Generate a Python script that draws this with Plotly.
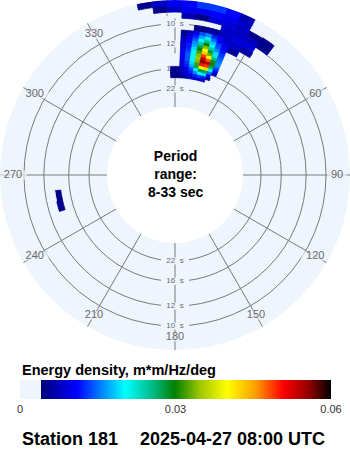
import plotly.graph_objects as go

# ---------------- data ----------------
# coarse grid: frequency bin centres (Hz) x direction bin centres (deg from N, clockwise)
freq_centers = [0.0525, 0.0575, 0.0625, 0.0675, 0.0725, 0.0775, 0.0825,
                0.0875, 0.0925, 0.0975, 0.1025, 0.1075, 0.1125, 0.1175]
dir_centers = [-10, -5, 0, 5, 10, 15, 20, 25, 30, 35]
# energy density (m*m/Hz/deg), rows = freq_centers, cols = dir_centers
energy_main = [
    [0,     0,     0,     0.004, 0.004, 0.004, 0,     0,     0,     0],
    [0,     0,     0.005, 0,     0,     0,     0,     0,     0,     0],
    [0,     0,     0.005, 0,     0,     0,     0,     0,     0,     0],
    [0,     0,     0.004, 0,     0,     0,     0,     0,     0,     0],
    [0,     0,     0.004, 0,     0,     0,     0,     0.004, 0,     0],
    [0,     0,     0,     0,     0,     0,     0,     0.004, 0,     0],
    [0,     0,     0,     0,     0,     0,     0,     0.004, 0,     0],
    [0,     0,     0,     0,     0,     0,     0,     0.006, 0,     0],
    [0,     0,     0,     0,     0,     0,     0,     0.008, 0.006, 0],
    [0,     0,     0,     0,     0.005, 0.006, 0.008, 0.009, 0.009, 0.004],
    [0,     0,     0,     0,     0,     0,     0.008, 0.008, 0.008, 0.005],
    [0,     0,     0.004, 0.007, 0.005, 0.009, 0.009, 0.008, 0.005, 0.005],
    [0,     0.005, 0.008, 0.010, 0.010, 0.011, 0.010, 0.008, 0.004, 0],
    [0.005, 0.008, 0.010, 0.011, 0.013, 0.013, 0.011, 0.007, 0.004, 0],
]
# fine grid over the main peak
core_freqs = [0.05625, 0.05875, 0.06125, 0.06375, 0.06625, 0.06875, 0.07125, 0.07375,
              0.07625, 0.07875, 0.08125, 0.08375, 0.08625, 0.08875, 0.09125, 0.09375]
core_dirs = [3.75, 6.25, 8.75, 11.25, 13.75, 16.25, 18.75, 21.25]
energy_core = [
    [0.005, 0.006, 0.007, 0.008, 0.009, 0.008, 0,     0],
    [0.006, 0.008, 0.010, 0.012, 0.013, 0.012, 0.006, 0],
    [0.007, 0.009, 0.012, 0.016, 0.020, 0.019, 0.010, 0.004],
    [0.008, 0.010, 0.014, 0.021, 0.028, 0.027, 0.015, 0.007],
    [0.009, 0.012, 0.017, 0.027, 0.040, 0.038, 0.021, 0.010],
    [0.009, 0.013, 0.019, 0.032, 0.050, 0.049, 0.027, 0.013],
    [0.010, 0.014, 0.020, 0.034, 0.056, 0.054, 0.030, 0.016],
    [0.010, 0.014, 0.021, 0.035, 0.054, 0.048, 0.029, 0.016],
    [0.010, 0.014, 0.021, 0.034, 0.049, 0.040, 0.026, 0.015],
    [0.010, 0.013, 0.020, 0.032, 0.043, 0.033, 0.022, 0.014],
    [0.009, 0.012, 0.019, 0.030, 0.040, 0.028, 0.019, 0.013],
    [0.009, 0.012, 0.017, 0.027, 0.034, 0.024, 0.016, 0.012],
    [0.008, 0.011, 0.016, 0.024, 0.030, 0.021, 0.014, 0.011],
    [0.007, 0.010, 0.014, 0.020, 0.025, 0.018, 0.013, 0.010],
    [0.006, 0.009, 0.012, 0.017, 0.021, 0.015, 0.011, 0.009],
    [0.005, 0.007, 0.010, 0.014, 0.016, 0.012, 0.010, 0.008],
]
west_freq = [0.0675, 0.0725, 0.0775]
west_dirs = [255, 260]
energy_west = [
    [0.004, 0.004],
    [0.005, 0.005],
    [0,     0.004],
]
bin_df, bin_dth = 0.005, 5
core_df, core_dth = 0.0025, 2.5

period_ticks = [10, 12, 16, 22]
angle_ticks = [0, 30, 60, 90, 120, 150, 180, 210, 240, 270, 300, 330]
angle_labels = ["360", "30", "60", "90", "120", "150", "180", "210", "240", "270", "300", "330"]
cbar_ticks = [0, 0.03, 0.06]
cbar_ticktext = ["0", "0.03", "0.06"]
e_max = 0.06

title_text = "Energy density, m*m/Hz/deg"
center_text = "<b>Period<br>range:<br>8-33 sec</b>"
station_text = "Station 181"
time_text = "2025-04-27 08:00 UTC"

# ---------------- style ----------------
BG = "#eef5fd"
GRID = "#7a7a7a"
LABEL = "#6a6a6a"
FONT = "Liberation Sans, Arial, sans-serif"
F_IN, F_OUT = 0.0304, 0.1201          # radial (frequency) range of the disk
HOLE = 68 / 175
LABEL_R = 0.1092                      # radius of direction labels

colorscale = [
    [0.0, BG], [0.0675, BG],
    [0.0676, "#000078"], [0.183, "#0000ff"], [0.26, "#0080ff"],
    [0.338, "#00ffff"], [0.42, "#00c090"], [0.498, "#008000"],
    [0.58, "#a0c800"], [0.666, "#ffff00"], [0.756, "#ffa000"],
    [0.846, "#ff0000"], [0.93, "#900000"], [1.0, "#000000"],
]

# ---------------- cells ----------------
th, base, rr, wid, val = [], [], [], [], []


def add_cells(freqs, dirs, table, df, dth):
    for i, f in enumerate(freqs):
        for j, d in enumerate(dirs):
            v = table[i][j]
            if v > 0:
                th.append(d); base.append(f - df / 2); rr.append(df)
                wid.append(dth); val.append(v)


add_cells(freq_centers, dir_centers, energy_main, bin_df, bin_dth)
add_cells(core_freqs, core_dirs, energy_core, core_df, core_dth)
add_cells(west_freq, west_dirs, energy_west, bin_df, bin_dth)

fig = go.Figure()

# direction labels (with masks hiding grid lines under them)
fig.add_trace(go.Scatterpolar(
    r=[LABEL_R] * len(angle_ticks), theta=angle_ticks, mode="markers",
    marker=dict(symbol="line-ew", size=[len(t) * 6 + 2 for t in angle_labels],
                line=dict(width=9, color=BG)),
    hoverinfo="skip", showlegend=False, subplot="polar"))
fig.add_trace(go.Scatterpolar(
    r=[LABEL_R] * len(angle_ticks), theta=angle_ticks, mode="text",
    text=angle_labels, textposition="middle center",
    textfont=dict(size=11, color=LABEL, family=FONT),
    hoverinfo="skip", showlegend=False, subplot="polar"))

# period labels on the 0 / 180 spokes
p_r = [1 / p for p in period_ticks] * 2
p_th = [0] * len(period_ticks) + [180] * len(period_ticks)
p_txt = [f"{p}\u00a0\u00a0s" for p in period_ticks] * 2
fig.add_trace(go.Scatterpolar(
    r=p_r, theta=p_th, mode="markers",
    marker=dict(symbol="line-ew", size=20, line=dict(width=7, color=BG)),
    hoverinfo="skip", showlegend=False, subplot="polar"))
fig.add_trace(go.Scatterpolar(
    r=p_r, theta=p_th, mode="text", text=p_txt, textposition="middle center",
    textfont=dict(size=8, color=LABEL, family=FONT),
    hoverinfo="skip", showlegend=False, subplot="polar"))

# spectrum
fig.add_trace(go.Barpolar(
    r=rr, theta=th, base=base, width=wid,
    marker=dict(
        color=val, colorscale=colorscale, cmin=0, cmax=e_max,
        line=dict(width=0.8, color=val, colorscale=colorscale, cmin=0, cmax=e_max),
        colorbar=dict(
            orientation="h", thickness=19, thicknessmode="pixels",
            len=311, lenmode="pixels", x=20 / 350, xanchor="left",
            y=1 - 380 / 450, yanchor="top", xpad=0, ypad=0,
            outlinewidth=0, ticks="", tickmode="array",
            tickvals=cbar_ticks, ticktext=cbar_ticktext,
            tickfont=dict(size=11, color="#333333", family=FONT),
        ),
    ),
    hoverinfo="skip", showlegend=False, subplot="polar2"))

domain = dict(x=[0, 1], y=[100 / 450, 1])
fig.update_layout(
    width=350, height=450, margin=dict(l=0, r=0, t=0, b=0),
    paper_bgcolor="white", plot_bgcolor="white", showlegend=False,
    polar=dict(
        domain=domain, hole=HOLE, bgcolor=BG,
        angularaxis=dict(rotation=90, direction="clockwise", tickmode="array",
                         tickvals=angle_ticks, showticklabels=False, ticks="",
                         showline=False, showgrid=True, gridcolor=GRID, gridwidth=1),
        radialaxis=dict(range=[F_IN, F_OUT], tickmode="array",
                        tickvals=[1 / p for p in period_ticks], showticklabels=False,
                        ticks="", showline=False, showgrid=True, gridcolor=GRID,
                        gridwidth=1),
    ),
    polar2=dict(
        domain=domain, hole=HOLE, bgcolor="rgba(0,0,0,0)", barmode="overlay",
        angularaxis=dict(rotation=90, direction="clockwise", showticklabels=False,
                         ticks="", showline=False, showgrid=False),
        radialaxis=dict(range=[F_IN, F_OUT], showticklabels=False, ticks="",
                        showline=False, showgrid=False),
    ),
    annotations=[
        dict(text=center_text, x=0.5, y=1 - 174 / 450, xref="paper", yref="paper",
             showarrow=False, font=dict(size=14, color="black", family=FONT),
             xanchor="center", yanchor="middle"),
        dict(text=f"<b>{title_text}</b>", x=20 / 350, y=1 - 370 / 450, xref="paper",
             yref="paper", showarrow=False, xanchor="left", yanchor="middle",
             font=dict(size=14.5, color="black", family=FONT)),
        dict(text=f"<b>{station_text}</b>", x=20 / 350, y=1 - 439 / 450, xref="paper",
             yref="paper", showarrow=False, xanchor="left", yanchor="middle",
             font=dict(size=18, color="black", family=FONT)),
        dict(text=f"<b>{time_text}</b>", x=138 / 350, y=1 - 439 / 450, xref="paper",
             yref="paper", showarrow=False, xanchor="left", yanchor="middle",
             font=dict(size=18, color="black", family=FONT)),
    ],
)

fig.write_html("out.html")
